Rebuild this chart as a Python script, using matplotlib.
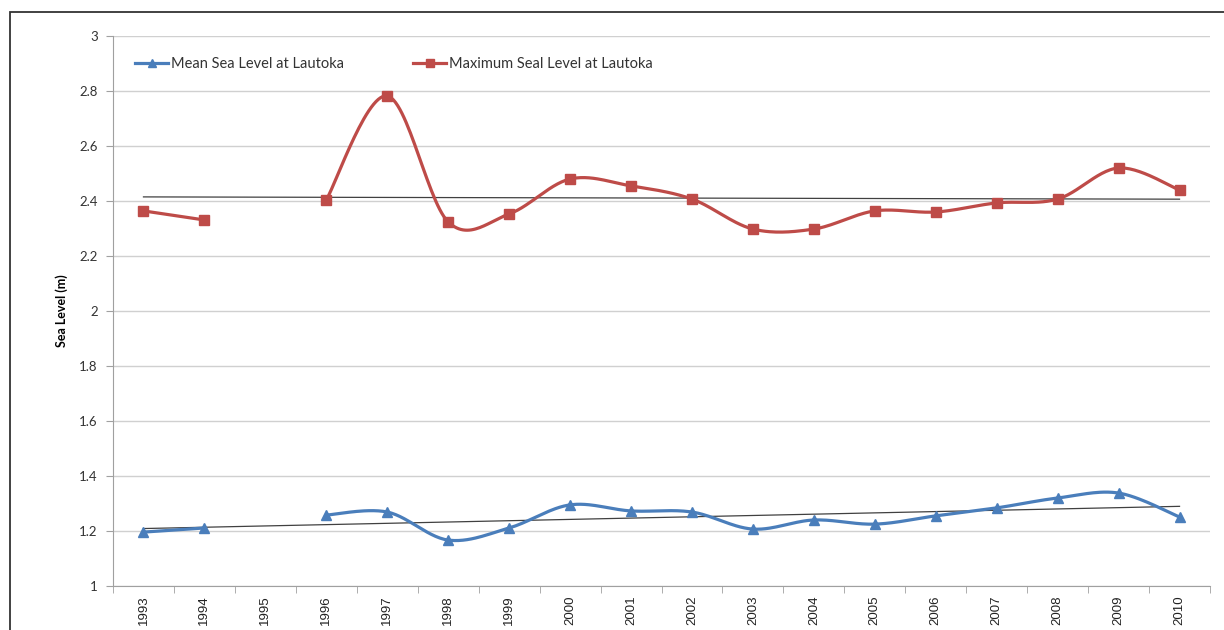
import numpy as np
import matplotlib
matplotlib.use("Agg")
import matplotlib.pyplot as plt
from matplotlib.lines import Line2D
from matplotlib.patches import Rectangle

years = ["1993", "1994", "1995", "1996", "1997", "1998", "1999", "2000", "2001",
         "2002", "2003", "2004", "2005", "2006", "2007", "2008", "2009", "2010"]
mean_level = [1.196, 1.211, None, 1.258, 1.269, 1.167, 1.211, 1.295, 1.273,
              1.269, 1.207, 1.240, 1.225, 1.255, 1.284, 1.320, 1.338, 1.251]
max_level = [2.364, 2.331, None, 2.404, 2.782, 2.324, 2.353, 2.480, 2.455,
             2.407, 2.298, 2.298, 2.364, 2.360, 2.393, 2.407, 2.520, 2.440]

BLUE = "#4A7EBB"
RED = "#BE4B48"


def smooth(xs, ys, n=30):
    # excel style smoothed line: bezier through points, catmull-rom controls
    xs = np.asarray(xs, float)
    ys = np.asarray(ys, float)
    if len(xs) < 3:
        return xs, ys
    px, py = [], []
    t = np.linspace(0, 1, n)
    for i in range(len(xs) - 1):
        i0, i3 = max(i - 1, 0), min(i + 2, len(xs) - 1)
        p0 = np.array([xs[i], ys[i]])
        p3 = np.array([xs[i + 1], ys[i + 1]])
        c1 = p0 + (p3 - np.array([xs[i0], ys[i0]])) / 6
        c2 = p3 - (np.array([xs[i3], ys[i3]]) - p0) / 6
        b = ((1 - t) ** 3)[:, None] * p0 + (3 * (1 - t) ** 2 * t)[:, None] * c1 \
            + (3 * (1 - t) * t ** 2)[:, None] * c2 + (t ** 3)[:, None] * p3
        px.extend(b[:, 0])
        py.extend(b[:, 1])
    return np.array(px), np.array(py)


def segments(vals):
    segs, cur = [], []
    for i, v in enumerate(vals):
        if v is None:
            if cur:
                segs.append(cur)
            cur = []
        else:
            cur.append((i, v))
    if cur:
        segs.append(cur)
    return segs


plt.rcParams["font.family"] = ["Lato", "DejaVu Sans"]
fig = plt.figure(figsize=(12.24, 6.3), dpi=100)
ax = fig.add_axes([113 / 1224, 1 - 586 / 630, 1097 / 1224, 550 / 630])

# outer chart border (only top and left inside the image)
fig.patches.append(Rectangle((10 / 1224, -0.1), 1.2, 1.1 - 12 / 630,
                             transform=fig.transFigure, fill=False,
                             edgecolor="#333333", lw=1.3, zorder=0))

for vals, color, marker, ms in [(mean_level, BLUE, "^", 7.5), (max_level, RED, "s", 7)]:
    for seg in segments(vals):
        xs = [p[0] for p in seg]
        ys = [p[1] for p in seg]
        sx, sy = smooth(xs, ys)
        ax.plot(sx, sy, color=color, lw=2.3, zorder=3, solid_capstyle="round")
        ax.plot(xs, ys, ls="none", marker=marker, ms=ms, color=color, zorder=4)
    # linear trendline
    idx = np.array([i for i, v in enumerate(vals) if v is not None])
    vv = np.array([v for v in vals if v is not None])
    k, b0 = np.polyfit(idx + 1, vv, 1)
    tx = np.array([0, len(years) - 1])
    ax.plot(tx, k * (tx + 1) + b0, color="#404040", lw=0.9, zorder=2)

ax.set_xlim(-0.5, len(years) - 0.5)
ax.set_ylim(1, 3)
ax.set_yticks(np.arange(1, 3.01, 0.2))
ax.set_yticklabels(["1", "1.2", "1.4", "1.6", "1.8", "2", "2.2", "2.4", "2.6", "2.8", "3"])
ax.set_xticks(range(len(years)))
ax.set_xticklabels(years, rotation=90, fontsize=9.5, family="Liberation Sans", color="#222222")
ax.set_xticks(np.arange(-0.5, len(years)), minor=True)
ax.tick_params(axis="x", which="major", length=0, pad=7)
ax.tick_params(axis="x", which="minor", length=5, color="#A0A0A0")
ax.tick_params(axis="y", length=5, color="#A0A0A0", labelsize=9.5, labelcolor="#333333", pad=6)
ax.grid(axis="y", color="#D0D0D0", lw=1)
ax.set_axisbelow(True)
for s in ["top", "right"]:
    ax.spines[s].set_visible(False)
for s in ["left", "bottom"]:
    ax.spines[s].set_color("#A0A0A0")

ax.set_ylabel("Sea Level (m)", fontsize=9, fontweight="bold", labelpad=8)

handles = [Line2D([], [], color=BLUE, lw=2.3, marker="^", ms=6),
           Line2D([], [], color=RED, lw=2.3, marker="s", ms=5.5)]
ax.legend(handles, ["Mean Sea Level at Lautoka", "Maximum Seal Level at Lautoka"],
          ncol=2, loc="upper left", bbox_to_anchor=(0.008, 0.985), frameon=False,
          fontsize=10.5, handlelength=2.3, handletextpad=0.2, columnspacing=4.7,
          labelcolor="#333333")

fig.savefig("out.png", dpi=100)
